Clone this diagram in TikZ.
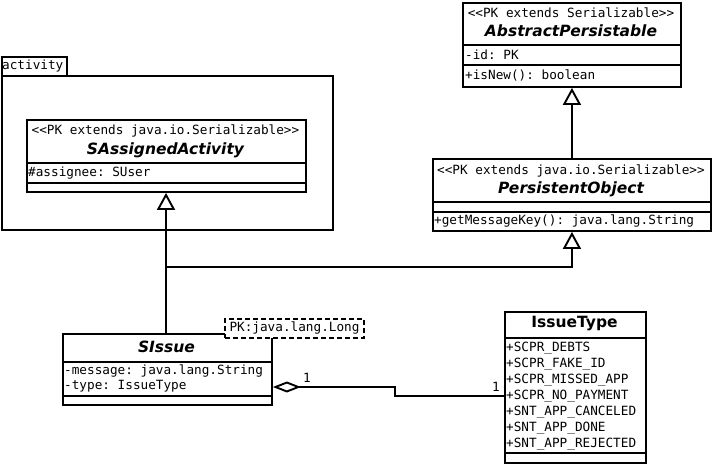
\documentclass[tikz,border=0pt]{standalone}
\usepackage{fontspec}
\setmainfont{DejaVu Sans}
\setsansfont{DejaVu Sans}
\setmonofont{DejaVu Sans Mono}
\usetikzlibrary{arrows.meta}
\tikzset{
  cls/.style={draw, line width=1.9pt, fill=white, inner sep=0pt, anchor=north west},
  sep/.style={line width=1.9pt},
  stereo/.style={font=\ttfamily\fontsize{12.7}{16}\selectfont, inner sep=0pt},
  title/.style={font=\sffamily\bfseries\itshape\fontsize{15.5}{16}\selectfont, inner sep=0pt},
  enumtitle/.style={font=\sffamily\bfseries\fontsize{15.5}{16}\selectfont, inner sep=0pt},
  member/.style={font=\ttfamily\fontsize{12.7}{16}\selectfont, inner sep=0pt, anchor=west},
  gen/.style={line width=1.9pt, -{Triangle[open, length=17pt, width=18pt]}},
  agg/.style={line width=1.9pt, {Diamond[open, length=28pt, width=11pt]}-},
}
\begin{document}
\begin{tikzpicture}[x=1pt, y=-1pt]
\useasboundingbox (0,0) rectangle (713,464);
% package
\node[cls, minimum width=65pt, minimum height=19pt] (acttab) at (1,56) {};
\node[cls, minimum width=331pt, minimum height=154pt] (actpkg) at (1,75) {};
\node[member] (acttab-name) at (2,65.5) {activity};
% AbstractPersistable
\node[cls, minimum width=218pt, minimum height=84pt] (abspers) at (462,2) {};
\draw[sep] (abspers.west |- 0,45) -- (abspers.east |- 0,45);
\draw[sep] (abspers.west |- 0,65) -- (abspers.east |- 0,65);
\node[stereo] (abspers-st) at (571,13) {<<PK extends Serializable>>};
\node[title] (abspers-name) at (571,31) {AbstractPersistable};
\node[member] (abspers-id) at (465,55) {-id: PK};
\node[member] (abspers-new) at (465,75) {+isNew(): boolean};
% SAssignedActivity
\node[cls, minimum width=279pt, minimum height=72pt] (sassigned) at (26,119) {};
\draw[sep] (sassigned.west |- 0,163) -- (sassigned.east |- 0,163);
\draw[sep] (sassigned.west |- 0,183) -- (sassigned.east |- 0,183);
\node[stereo] (sassigned-st) at (165.5,131) {<<PK extends java.io.Serializable>>};
\node[title] (sassigned-name) at (165.5,150) {SAssignedActivity};
\node[member] (sassigned-who) at (28,173) {\#assignee: SUser};
% PersistentObject
\node[cls, minimum width=278pt, minimum height=72pt] (persobj) at (432,158) {};
\draw[sep] (persobj.west |- 0,202) -- (persobj.east |- 0,202);
\draw[sep] (persobj.west |- 0,212) -- (persobj.east |- 0,212);
\node[stereo] (persobj-st) at (571,171) {<<PK extends java.io.Serializable>>};
\node[title] (persobj-name) at (571,189) {PersistentObject};
\node[member] (persobj-key) at (434,221.5) {+getMessageKey(): java.lang.String};
% SIssue
\node[cls, minimum width=209pt, minimum height=71pt] (sissue) at (62,333) {};
\draw[sep] (sissue.west |- 0,362) -- (sissue.east |- 0,362);
\draw[sep] (sissue.west |- 0,396) -- (sissue.east |- 0,396);
\node[title] (sissue-name) at (166.5,347) {SIssue};
\node[member] (sissue-msg) at (64,371) {-message: java.lang.String};
\node[member] (sissue-type) at (64,386.5) {-type: IssueType};
\node[draw, dash pattern=on 5pt off 3pt, line width=1.9pt, fill=white, minimum width=139pt, minimum height=19pt, inner sep=0pt, font=\ttfamily\fontsize{12.7}{16}\selectfont] (sissue-pk) at (294.5,328.5) {PK:java.lang.Long};
% IssueType
\node[cls, minimum width=141pt, minimum height=151pt] (itype) at (504,311) {};
\draw[sep] (itype.west |- 0,338) -- (itype.east |- 0,338);
\draw[sep] (itype.west |- 0,453) -- (itype.east |- 0,453);
\node[enumtitle] (itype-name) at (574.5,324) {IssueType};
\node[member] (itype-a) at (506,348) {+SCPR\_DEBTS};
\node[member] (itype-b) at (506,364) {+SCPR\_FAKE\_ID};
\node[member] (itype-c) at (506,380) {+SCPR\_MISSED\_APP};
\node[member] (itype-d) at (506,396) {+SCPR\_NO\_PAYMENT};
\node[member] (itype-e) at (506,412) {+SNT\_APP\_CANCELED};
\node[member] (itype-f) at (506,428) {+SNT\_APP\_DONE};
\node[member] (itype-g) at (506,444) {+SNT\_APP\_REJECTED};
% relations
\coordinate (fork) at (166,267);
\draw[gen] (sissue.north -| fork) -- (sassigned.south -| fork);
\draw[gen] (fork) -- (persobj.south |- fork) -- (persobj.south);
\draw[gen] (persobj.north) -- (abspers.south);
\coordinate (bend) at (395,387);
\draw[agg] (sissue.east |- bend) -- (bend) -- ++(0,9) -- (itype.west |- 0,396);
\node[member] (agg-one) at (303,378) {1};
\node[member] (agg-two) at (492,387) {1};
\end{tikzpicture}
\end{document}
